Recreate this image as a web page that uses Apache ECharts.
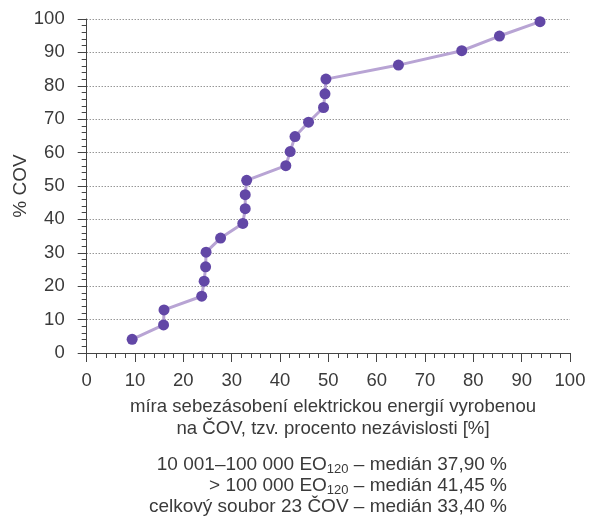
<!DOCTYPE html>
<html>
<head>
<meta charset="utf-8">
<script src="https://cdn.jsdelivr.net/npm/echarts@6/dist/echarts.min.js"></script>
<style>
  html, body { margin: 0; padding: 0; background: #fff; }
  #chart { width: 590px; height: 517px; }
</style>
</head>
<body>
<div id="chart"></div>
<script>
//---------------------Data---------------------
// x: míra nezávislosti [%], y: kumulativní podíl ČOV [%]
let independence_values = [9.4, 15.9, 16.0, 23.8, 24.3, 24.6, 24.7, 27.7, 32.3, 32.8, 32.8, 33.1,
    41.2, 42.1, 43.1, 45.9, 49.0, 49.3, 49.5, 64.5, 77.6, 85.4, 93.8];
let cov_share_values = [4.1, 8.4, 12.9, 17.0, 21.5, 25.8, 30.2, 34.4, 38.8, 43.2, 47.4, 51.7,
    56.1, 60.3, 64.8, 69.1, 73.5, 77.6, 82.0, 86.2, 90.5, 94.9, 99.2];
let axis_name_lines = ["míra sebezásobení elektrickou energií vyrobenou", "na ČOV, tzv. procento nezávislosti [%]"];
let median_lines = [
    "10 001–100 000 EO{sub|120} – medián 37,90 %",
    "> 100 000 EO{sub|120} – medián 41,45 %",
    "celkový soubor 23 ČOV – medián 33,40 %"
];

let chart_dom = document.getElementById("chart");
let chart = echarts.init(chart_dom);

let text_color = "#3a3a3a";
let font_family = "'Liberation Sans', Arial, sans-serif";

//--------------------Series--------------------
let points = independence_values.map(function (x, i) { return [x, cov_share_values[i]]; });
let cov_series = {
    type: 'line',
    data: points,
    symbol: 'circle',
    symbolSize: 11,
    itemStyle: { color: '#6247a6' },
    lineStyle: { color: '#b8a4d4', width: 3 },
    silent: true
};

//--------------------Texts---------------------
let bottom_texts = [];
axis_name_lines.forEach(function (line, i) {
    bottom_texts.push({
        type: 'text', x: 333, y: 407 + i * 22,
        style: { text: line, align: 'center', verticalAlign: 'middle',
                 font: '18.6px ' + font_family, fill: text_color }
    });
});
median_lines.forEach(function (line, i) {
    bottom_texts.push({
        type: 'text', x: 507, y: 465 + i * 21,
        style: { text: line, align: 'right', verticalAlign: 'middle',
                 font: '19px ' + font_family, fill: text_color,
                 rich: { sub: { fontSize: 13, fontFamily: font_family, fill: text_color, padding: [8, 0, 0, 0] } } }
    });
});

//------------------Generate Graph------------------
let chart_option = {
    backgroundColor: '#fff',
    animation: false,
    grid: { left: 86.7, right: 20, top: 19, bottom: 164, outerBoundsMode: 'none', containLabel: false },
    xAxis: {
        type: 'value', min: 0, max: 100, interval: 10,
        axisLine: { show: true, lineStyle: { color: '#444', width: 1 } },
        axisTick: { show: true, length: 9, lineStyle: { color: '#444' } },
        minorTick: { show: true, splitNumber: 5, length: 5, lineStyle: { color: '#444' } },
        splitLine: { show: false },
        axisLabel: { fontSize: 18.5, color: text_color, fontFamily: font_family, margin: 18 }
    },
    yAxis: {
        type: 'value', min: 0, max: 100, interval: 10,
        name: '% COV', nameLocation: 'middle', nameGap: 56, nameMoveOverlap: false,
        nameTextStyle: { fontSize: 19, color: text_color, fontFamily: font_family },
        axisLine: { show: true, lineStyle: { color: '#444', width: 1 } },
        axisTick: { show: true, length: 9, lineStyle: { color: '#444' } },
        minorTick: { show: true, splitNumber: 5, length: 5, lineStyle: { color: '#444' } },
        splitLine: { show: true, lineStyle: { color: '#666', type: [1, 2], width: 1 } },
        axisLabel: { fontSize: 18.5, color: text_color, fontFamily: font_family, margin: 22 }
    },
    graphic: bottom_texts,
    series: [cov_series]
};
if (chart_option && typeof chart_option === "object") {
    chart.setOption(chart_option, true);
}
</script>
</body>
</html>
